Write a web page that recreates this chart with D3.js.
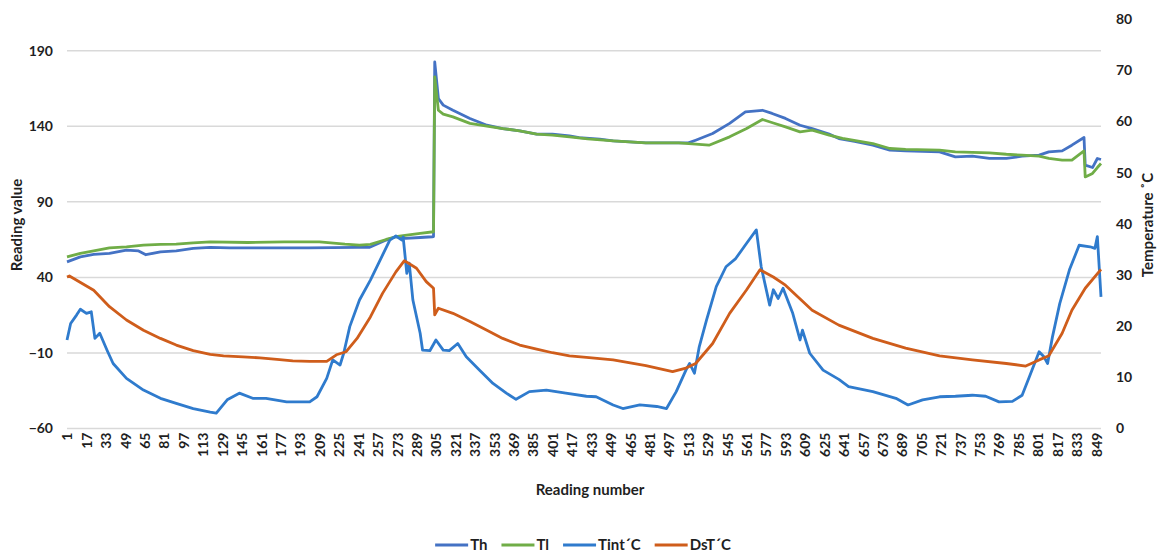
<!DOCTYPE html>
<html>
<head>
<meta charset="utf-8">
<script src="https://cdn.jsdelivr.net/npm/d3@7"></script>
<style>
  body { margin: 0; background: #fff; }
  text { font-family: Lato, 'Open Sans', sans-serif; fill: #1f1f1f; }
</style>
</head>
<body>
<div id="chart"></div>
<script>
// reading number / value pairs
const thReadings = [1, 12, 23, 36, 50, 60, 66, 78, 91, 105, 119, 135, 160, 200, 240, 250, 264, 272, 280, 292, 302, 303, 304, 307, 311, 319, 333, 347, 360, 374, 388, 401, 415, 423, 440, 451, 478, 505, 513, 519, 533, 547, 560, 574, 582, 593, 605, 615, 629, 637, 650, 665, 679, 692, 720, 733, 747, 761, 775, 788, 802, 810, 821, 829, 839, 840, 846, 850, 853];
const thValues = [50.3, 53.6, 55.2, 55.9, 58.1, 57.5, 55.0, 56.9, 57.6, 59.2, 59.8, 59.6, 59.6, 59.6, 59.8, 59.8, 64.7, 66.9, 65.8, 66.4, 66.9, 67.0, 182.6, 158.4, 154.0, 150.6, 145.2, 140.7, 138.5, 137.0, 134.8, 134.8, 133.7, 132.5, 131.5, 130.3, 129.0, 129.0, 129.0, 130.8, 135.2, 141.9, 149.5, 150.6, 148.5, 145.2, 140.7, 138.5, 134.8, 131.9, 130.0, 127.5, 124.2, 123.7, 123.1, 119.8, 120.2, 118.7, 118.7, 120.2, 120.9, 123.1, 123.7, 127.5, 132.6, 114.3, 112.7, 118.7, 118.0];

const tlReadings = [1, 12, 23, 36, 50, 64, 78, 91, 105, 119, 150, 180, 209, 230, 242, 251, 264, 272, 281, 292, 303, 304, 307, 311, 319, 333, 347, 360, 374, 388, 401, 415, 430, 451, 478, 505, 519, 530, 547, 561, 574, 583, 593, 605, 615, 629, 640, 665, 679, 692, 720, 733, 747, 761, 775, 788, 802, 810, 821, 829, 839, 840, 846, 850, 853];
const tlValues = [53.6, 55.9, 57.6, 59.6, 60.2, 61.4, 61.8, 62.0, 62.9, 63.5, 63.1, 63.5, 63.5, 62.0, 61.4, 61.8, 65.1, 66.9, 68.0, 69.1, 70.2, 172.7, 150.6, 148.0, 146.2, 141.9, 140.1, 138.5, 137.0, 134.8, 134.1, 133.0, 131.6, 130.3, 129.0, 129.0, 128.2, 127.5, 133.0, 138.5, 144.5, 142.2, 139.6, 136.3, 137.4, 134.1, 132.0, 128.6, 125.3, 124.7, 124.2, 123.1, 122.7, 122.4, 121.5, 120.9, 120.2, 118.7, 117.6, 117.6, 123.7, 106.5, 108.8, 112.7, 115.4];

const tintReadings = [1, 4, 9, 12, 17, 21, 24, 28, 34, 39, 50, 64, 78, 91, 105, 119, 124, 133, 143, 154, 165, 182, 201, 207, 215, 220, 226, 229, 234, 242, 251, 259, 267, 272, 277, 278, 281, 283, 286, 292, 294, 300, 305, 311, 316, 323, 330, 341, 352, 363, 371, 382, 396, 412, 429, 437, 451, 459, 473, 487, 495, 503, 511, 514, 518, 522, 528, 536, 544, 552, 561, 569, 573, 580, 583, 587, 591, 599, 605, 607, 613, 624, 637, 645, 665, 684, 694, 706, 720, 733, 747, 758, 769, 780, 788, 794, 802, 806, 809, 813, 819, 827, 835, 844, 848, 850, 853];
const tintValues = [17.3, 20.5, 22.2, 23.3, 22.5, 22.8, 17.6, 18.6, 15.3, 12.7, 9.8, 7.5, 5.9, 4.9, 3.9, 3.2, 3.0, 5.6, 6.9, 5.9, 5.9, 5.2, 5.2, 6.2, 9.8, 13.4, 12.4, 14.7, 19.9, 25.1, 29.0, 32.9, 36.8, 37.6, 36.8, 37.4, 30.3, 32.3, 25.1, 18.6, 15.3, 15.2, 17.3, 15.3, 15.2, 16.6, 14.0, 11.4, 8.8, 6.9, 5.7, 7.2, 7.5, 6.9, 6.3, 6.2, 4.6, 3.9, 4.6, 4.3, 3.9, 7.2, 11.4, 12.7, 10.8, 16.0, 21.2, 27.7, 31.6, 33.2, 36.2, 38.8, 31.6, 24.1, 27.1, 25.4, 27.4, 22.5, 17.3, 19.2, 14.7, 11.4, 9.6, 8.2, 7.2, 5.9, 4.6, 5.6, 6.2, 6.3, 6.5, 6.3, 5.2, 5.3, 6.5, 10.1, 15.0, 14.0, 12.7, 17.9, 24.4, 31.0, 35.8, 35.5, 35.2, 37.5, 25.7];

const dstReadings = [1, 3, 23, 36, 50, 64, 78, 91, 105, 119, 130, 146, 160, 174, 187, 201, 215, 223, 231, 240, 251, 261, 272, 279, 289, 297, 303, 304, 307, 319, 333, 347, 360, 374, 388, 401, 415, 429, 451, 478, 500, 511, 519, 533, 547, 561, 572, 583, 593, 615, 637, 665, 692, 720, 747, 775, 791, 802, 810, 821, 829, 840, 853];
const dstValues = [29.6, 29.8, 27.0, 23.8, 21.2, 19.2, 17.6, 16.3, 15.2, 14.5, 14.2, 14.0, 13.8, 13.5, 13.2, 13.1, 13.1, 14.4, 15.0, 17.6, 21.8, 26.4, 30.6, 32.8, 31.3, 28.7, 27.4, 22.2, 23.5, 22.5, 20.9, 19.2, 17.6, 16.3, 15.5, 14.8, 14.2, 13.9, 13.4, 12.3, 11.1, 11.8, 12.7, 16.6, 22.5, 27.1, 31.0, 29.6, 28.0, 23.1, 20.2, 17.6, 15.7, 14.2, 13.4, 12.7, 12.2, 13.4, 14.2, 18.6, 23.1, 27.4, 31.1];

const xTickLabels = [1, 17, 33, 49, 65, 81, 97, 113, 129, 145, 161, 177, 193, 209, 225, 241, 257, 273, 289, 305, 321, 337, 353, 369, 385, 401, 417, 433, 449, 465, 481, 497, 513, 529, 545, 561, 577, 593, 609, 625, 641, 657, 673, 689, 705, 721, 737, 753, 769, 785, 801, 817, 833, 849];
const leftTicks = [-60, -10, 40, 90, 140, 190];
const rightTicks = [0, 10, 20, 30, 40, 50, 60, 70, 80];
const lastReading = 853;

const seriesNames = ['Th', 'Tl', 'Tint\u00b4C', 'DsT\u00b4C'];
const seriesColors = ['#4472c4', '#70ad47', '#2f7bcd', '#cf5d1b'];

const svgWidth = 1158;
const svgHeight = 552;
const margin = { top: 19, right: 57, bottom: 123.5, left: 67 };
const chartWidth = svgWidth - margin.left - margin.right;
const chartHeight = svgHeight - margin.top - margin.bottom;

const svg = d3.select('#chart').append('svg')
  .attr('width', svgWidth)
  .attr('height', svgHeight);

const chartGroup = svg.append('g')
  .attr('transform', `translate(${margin.left}, ${margin.top})`);

const x = d3.scaleLinear().domain([1, lastReading]).range([0, chartWidth]);
const yLeft = d3.scaleLinear().domain([-60, 211]).range([chartHeight, 0]);
const yRight = d3.scaleLinear().domain([0, 80]).range([chartHeight, 0]);

// gridlines
chartGroup.append('g')
  .selectAll('line')
  .data(leftTicks)
  .enter()
  .append('line')
  .attr('x1', 0)
  .attr('x2', chartWidth)
  .attr('y1', (d) => yLeft(d))
  .attr('y2', (d) => yLeft(d))
  .attr('stroke', '#d9d9d9')
  .attr('stroke-width', 1.5);

// left axis
const leftAxis = chartGroup.append('g')
  .call(d3.axisLeft(yLeft).tickValues(leftTicks).tickSize(0).tickPadding(14));
leftAxis.select('.domain').remove();
leftAxis.selectAll('text').attr('font-size', 14).attr('font-weight', 'bold');

// right axis
const rightAxis = chartGroup.append('g')
  .attr('transform', `translate(${chartWidth}, 0)`)
  .call(d3.axisRight(yRight).tickValues(rightTicks).tickSize(0).tickPadding(15));
rightAxis.select('.domain').remove();
rightAxis.selectAll('text').attr('font-size', 14).attr('font-weight', 'bold');

// bottom axis, labels rotated
const bottomAxis = chartGroup.append('g')
  .attr('transform', `translate(0, ${chartHeight})`)
  .call(d3.axisBottom(x).tickValues(xTickLabels).tickSize(0).tickFormat(d3.format('d')));
bottomAxis.select('.domain').remove();
bottomAxis.selectAll('text')
  .attr('font-size', 14)
  .attr('font-weight', 'bold')
  .attr('text-anchor', 'end')
  .attr('transform', 'rotate(-90)')
  .attr('x', -4)
  .attr('y', 0)
  .attr('dy', '0.35em');

// lines
const series = [
  { readings: thReadings, values: thValues, scale: yLeft },
  { readings: tlReadings, values: tlValues, scale: yLeft },
  { readings: tintReadings, values: tintValues, scale: yRight },
  { readings: dstReadings, values: dstValues, scale: yRight },
];

series.forEach((s, i) => {
  const pts = s.readings.map((r, j) => [r, s.values[j]]);
  const line = d3.line()
    .x((d) => x(d[0]))
    .y((d) => s.scale(d[1]));
  chartGroup.append('path')
    .datum(pts)
    .attr('fill', 'none')
    .attr('stroke', seriesColors[i])
    .attr('stroke-width', 2.8)
    .attr('stroke-linejoin', 'round')
    .attr('d', line);
});

// axis titles
svg.append('text')
  .attr('transform', `translate(22, 225) rotate(-90)`)
  .attr('text-anchor', 'middle')
  .attr('font-size', 15)
  .attr('font-weight', 'bold')
  .text('Reading value');

svg.append('text')
  .attr('transform', `translate(1153, 225) rotate(-90)`)
  .attr('text-anchor', 'middle')
  .attr('font-size', 15)
  .attr('font-weight', 'bold')
  .text('Temperature \u02daC');

svg.append('text')
  .attr('x', 590)
  .attr('y', 495)
  .attr('text-anchor', 'middle')
  .attr('font-size', 15)
  .attr('font-weight', 'bold')
  .text('Reading number');

// legend
const legend = svg.append('g').attr('transform', 'translate(0, 545)');
let cursor = 0;
const items = seriesNames.map((name, i) => {
  const g = legend.append('g');
  g.append('line')
    .attr('x1', 0).attr('x2', 33)
    .attr('y1', 0).attr('y2', 0)
    .attr('stroke', seriesColors[i])
    .attr('stroke-width', 3);
  const t = g.append('text')
    .attr('x', 35)
    .attr('dy', '0.35em')
    .attr('font-size', 15)
    .attr('font-weight', 'bold')
    .text(name);
  const w = 35 + t.node().getComputedTextLength();
  g.attr('transform', `translate(${cursor}, 0)`);
  cursor += w + 14;
  return g;
});
const legendWidth = cursor - 14;
legend.attr('transform', `translate(${583 - legendWidth / 2}, 545)`);
</script>
</body>
</html>
